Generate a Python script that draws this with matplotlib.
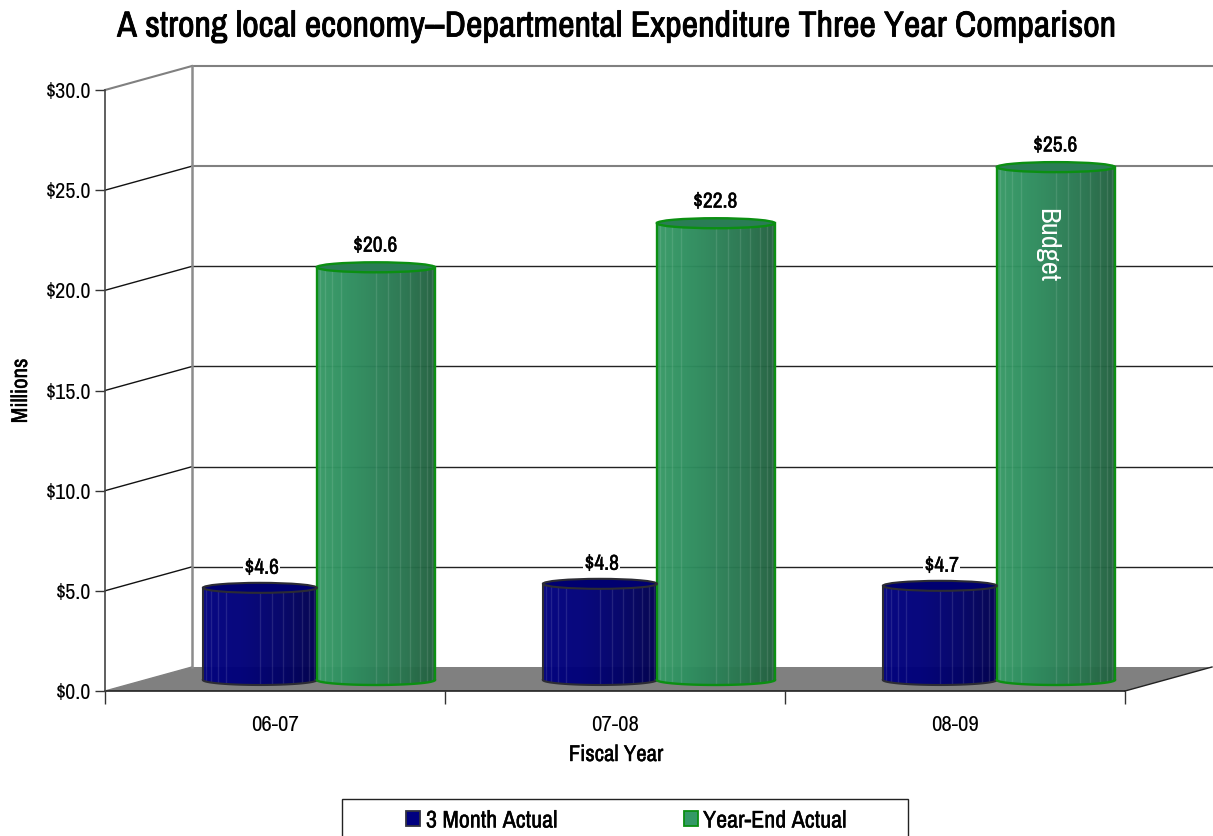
import numpy as np
import matplotlib
matplotlib.use("Agg")
import matplotlib.pyplot as plt
import matplotlib.patheffects as pe
from matplotlib.patches import Ellipse, Polygon, Rectangle
from matplotlib.colors import LinearSegmentedColormap
from matplotlib.ticker import FormatStrFormatter

plt.rcParams['font.family'] = ['Liberation Sans Narrow', 'Archivo Narrow', 'Liberation Sans', 'DejaVu Sans']

years = ["06-07", "07-08", "08-09"]
month3 = [4.6, 4.8, 4.7]
year_end = [20.6, 22.8, 25.6]
yticks = [0, 5, 10, 15, 20, 25, 30]

# pseudo 3d layout, in axis units (1 x unit = one category, 1 y unit = $1M)
wall_dx = 87 / 340
wall_dy = 24 / 20.03
base = 0.55
cap = 0.25

blues = LinearSegmentedColormap.from_list("b", ["#00007e", "#00007a", "#000068", "#00004e"])
greens = LinearSegmentedColormap.from_list("g", ["#379a66", "#2f9060", "#2c8258", "#28744e", "#22603f"])

# the narrow font has no bold cut here, so thicken it with a thin stroke
heavy = [pe.withStroke(linewidth=0.6, foreground="black")]
semi = [pe.withStroke(linewidth=0.3, foreground="black")]

fig = plt.figure(figsize=(12.13, 8.36), dpi=100)
ax = fig.add_axes([105 / 1213, 1 - 691 / 836, 1020 / 1213, 601 / 836])
ax.patch.set_alpha(0)
for s in ax.spines.values():
    s.set_visible(False)


def cylinder(x0, width, value, cmap, edge, top, lw):
    x1 = x0 + width
    xc = x0 + width / 2
    t = np.linspace(0, np.pi, 60)
    low_x = xc + width / 2 * np.cos(np.pi - t)
    low_y = base - cap * np.sin(t)
    verts = [(x0, base + value)] + list(zip(low_x, low_y)) + [(x1, base + value), (x0, base + value)]
    body = Polygon(verts, closed=True, fc="none", ec="none", transform=ax.transData)
    ax.add_patch(body)
    grad = np.linspace(0, 1, 128).reshape(1, -1)
    im = ax.imshow(grad, cmap=cmap, extent=[x0, x1, base - cap, base + value], aspect="auto",
                   zorder=3, alpha=0.97, clip_on=True)
    im.set_clip_path(body)
    # facet lines round the cylinder
    for a in np.radians(np.arange(-84, 85, 12)):
        if -30 < np.degrees(a) < -5:
            continue
        fx = xc + width / 2 * np.sin(a)
        yb = base - cap * np.cos(a)
        ax.plot([fx, fx], [yb, base + value], color="white", alpha=0.11, lw=1, zorder=3.1,
                solid_capstyle="butt")
    ax.plot(low_x, low_y, color=edge, lw=lw, zorder=3.2)
    ax.plot([x0, x0], [base, base + value], color=edge, lw=lw, zorder=3.2)
    ax.plot([x1, x1], [base, base + value], color=edge, lw=lw, zorder=3.2)
    ax.add_patch(Ellipse((xc, base + value), width, cap * 2, fc=top, ec=edge, lw=lw, zorder=3.3))


right = 3 + wall_dx
# floor and walls
ax.add_patch(Polygon([(0, 0), (wall_dx, wall_dy), (right, wall_dy), (3, 0)], closed=True,
                     fc="#808080", ec="none", zorder=1, clip_on=False))
for v in yticks[1:]:
    c = "#808080" if v in (30, 25) else "#222222"
    ax.plot([0, wall_dx], [v, v + wall_dy], color="#808080" if v == 30 else "#111111", lw=1.0 if v != 30 else 1.5,
            zorder=1, clip_on=False)
    ax.plot([wall_dx, right], [v + wall_dy, v + wall_dy], color=c, lw=1.5 if v >= 25 else 1, zorder=1, clip_on=False)
ax.plot([wall_dx, wall_dx], [wall_dy, 30 + wall_dy], color="#8c8c8c", lw=1.8, zorder=1.5, clip_on=False)
ax.plot([0, wall_dx], [0, wall_dy], color="#808080", lw=1, zorder=1, clip_on=False)
ax.plot([3, right], [0, wall_dy], color="#222222", lw=1, zorder=1.5, clip_on=False)
ax.plot([0, 3], [0, 0], color="#222222", lw=1.2, zorder=2, clip_on=False)
ax.plot([0, 0], [0, 30], color="#444444", lw=1.2, zorder=2, clip_on=False)

for i in range(len(years)):
    cylinder(i + 0.288, 0.335, month3[i], blues, "#2c2c34", "#000070", 1.5)
    cylinder(i + 0.623, 0.347, year_end[i], greens, "#0b8f12", "#2a7d55", 1.7)
    ax.text(i + 0.461, base + month3[i] + 1.0, f"${month3[i]:.1f}", ha="center", va="center", fontsize=15.5,
            zorder=4, bbox=dict(fc="white", ec="none", pad=0.8), path_effects=semi)
    ax.text(i + 0.795, base + year_end[i] + 1.08, f"${year_end[i]:.1f}", ha="center", va="center", fontsize=15.5,
            zorder=4, bbox=dict(fc="white", ec="none", pad=0.8), path_effects=semi)

ax.text(2 + 0.797 - 0.027, base + year_end[2] - 3.9, "Budget", rotation=-90, color="white", fontsize=20.5,
        ha="center", va="center", zorder=5)

ax.set_xlim(0, 3)
ax.set_ylim(0, 30)
ax.set_yticks(yticks)
ax.yaxis.set_major_formatter(FormatStrFormatter("$%.1f"))
ax.set_xticks([0, 1, 2, 3])
ax.set_xticklabels([])
ax.set_xticks([0.5, 1.5, 2.5], labels=years, minor=True)
ax.tick_params(axis="x", which="major", length=9, width=1, color="#333333")
ax.tick_params(axis="x", which="minor", length=0, pad=17.5, labelsize=16.5)
ax.tick_params(axis="y", length=7, width=1, color="#333333", labelsize=16, pad=3)

fig.text(616 / 1213, 1 - 26 / 836, "A strong local economy--Departmental Expenditure Three Year Comparison",
         ha="center", va="center", fontsize=26, path_effects=heavy)
fig.text(616 / 1213, 1 - 755 / 836, "Fiscal Year", ha="center", va="center", fontsize=16.4, path_effects=semi)
fig.text(21 / 1213, 1 - 391 / 836, "Millions", rotation=90, ha="center", va="center", fontsize=16.5, path_effects=semi)

# legend box runs off the bottom of the picture
fig.add_artist(Rectangle((342 / 1213, -0.02), 566 / 1213, 1 - 799 / 836 + 0.02, transform=fig.transFigure,
                         fc="white", ec="#222222", lw=1))
for x_sw, x_txt, fc, ec, label in [(406, 426, "#000080", "#333340", "3 Month Actual"),
                                   (684, 703, "#339966", "#0b8f12", "Year-End Actual")]:
    fig.add_artist(Rectangle((x_sw / 1213, 1 - 826 / 836), 14 / 1213, 15 / 836, transform=fig.transFigure,
                             fc=fc, ec=ec, lw=1.3))
    fig.text(x_txt / 1213, 1 - 821 / 836, label, ha="left", va="center", fontsize=17.3, path_effects=semi)

fig.savefig("out.png", dpi=100)
